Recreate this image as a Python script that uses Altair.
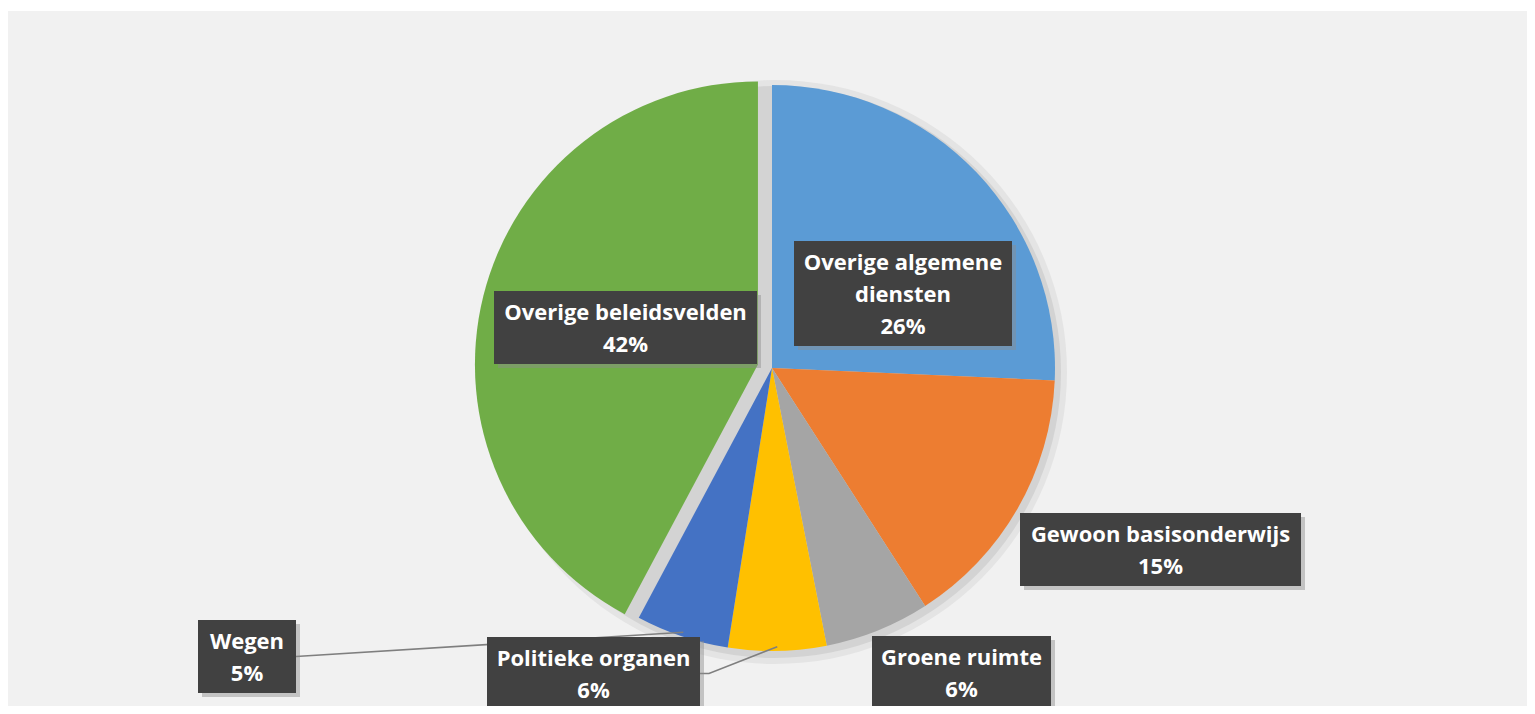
import math
import altair as alt
import pandas as pd

# ---------------- data ----------------
categories = ["Overige algemene diensten", "Gewoon basisonderwijs", "Groene ruimte",
              "Politieke organen", "Wegen", "Overige beleidsvelden"]
shares = [25.7, 15.2, 6.0, 5.6, 5.3, 42.2]
pct_labels = ["26%", "15%", "6%", "6%", "5%", "42%"]
name_lines = [["Overige algemene", "diensten"], ["Gewoon basisonderwijs"], ["Groene ruimte"],
              ["Politieke organen"], ["Wegen"], ["Overige beleidsvelden"]]
colors = ["#5B9BD5", "#ED7D31", "#A5A5A5", "#FFC000", "#4472C4", "#70AD47"]
exploded = ["Overige beleidsvelden"]
with_leader = ["Politieke organen", "Wegen"]

# ---------------- layout (pixels in plot area) ----------------
W, H = 1519, 695
CX, CY, R = 764, 357, 283
EXPLODE = 14.5
LINE_H = 32
# label box: left, top, right
box_layout = {
    "Overige algemene diensten": (786, 230, 1004),
    "Gewoon basisonderwijs": (1012, 502, 1293),
    "Groene ruimte": (864, 625, 1043),
    "Politieke organen": (479, 626, 692),
    "Wegen": (190, 609, 288),
    "Overige beleidsvelden": (486, 280, 749),
}
elbow = {"Politieke organen": 9, "Wegen": 0}
FONT = "Open Sans"
FS = 22
BOX_COLOR = "#414141"

# ---------------- derived tables ----------------
total = sum(shares)
rows = []
acc = 0.0
for c, s, col in zip(categories, shares, colors):
    t0 = acc / total * 2 * math.pi
    acc += s
    t1 = acc / total * 2 * math.pi
    mid = (t0 + t1) / 2
    off = EXPLODE if c in exploded else 0
    rows.append(dict(cat=c, t0=t0, t1=t1, mid=mid, color=col,
                     cx=CX + off * math.sin(mid), cy=CY - off * math.cos(mid)))
slices = pd.DataFrame(rows)

boxes, texts, leaders = [], [], []
for c, pct, lines in zip(categories, pct_labels, name_lines):
    allines = lines + [pct]
    l, t, r = box_layout[c]
    b = t + 32 * (len(allines) - 1) + 41
    boxes.append(dict(cat=c, l=l, t=t, r=r, b=b))
    for i, ln in enumerate(allines):
        texts.append(dict(cat=c, x=(l + r) / 2, y=t + 21.5 + LINE_H * i, txt=ln))
    if c in with_leader:
        mid = slices.loc[slices.cat == c, "mid"].iloc[0]
        ym = (t + b) / 2
        pts = [(r, ym), (r + elbow[c], ym),
               (CX + 0.985 * R * math.sin(mid), CY - 0.985 * R * math.cos(mid))]
        for k, (px, py) in enumerate(pts):
            leaders.append(dict(cat=c, k=k, x=px, y=py))
boxes = pd.DataFrame(boxes)
texts = pd.DataFrame(texts)
leaders = pd.DataFrame(leaders)

shadow_df = pd.DataFrame([dict(cx=CX + 3, cy=CY + 4, t0=0.0, t1=2 * math.pi)])

Xn = lambda f: alt.X(f, type="quantitative", scale=None)
Yn = lambda f: alt.Y(f, type="quantitative", scale=None)

pie_glow = alt.Chart(shadow_df).mark_arc(radius=292, color="#e4e4e4").encode(
    x=Xn("cx"), y=Yn("cy"), theta=alt.Theta("t0:Q", scale=None), theta2="t1")
pie_shadow = alt.Chart(shadow_df).mark_arc(radius=286, color="#d3d3d3").encode(
    x=Xn("cx"), y=Yn("cy"), theta=alt.Theta("t0:Q", scale=None), theta2="t1")

pie = alt.Chart(slices).mark_arc(radius=R).encode(
    x=Xn("cx"), y=Yn("cy"),
    theta=alt.Theta("t0:Q", scale=None), theta2="t1",
    color=alt.Color("color:N", scale=None),
)

lead = alt.Chart(leaders).mark_line(color="#7f7f7f", strokeWidth=1.6).encode(
    x=Xn("x"), y=Yn("y"), detail="cat:N", order="k:Q")

box_shadow = alt.Chart(boxes).transform_calculate(
    l2="datum.l + 4", r2="datum.r + 4", t2="datum.t + 4", b2="datum.b + 4"
).mark_rect(color="#8c8c8c", opacity=0.45).encode(
    x=Xn("l2"), x2="r2", y=Yn("t2"), y2="b2")

box = alt.Chart(boxes).mark_rect(color=BOX_COLOR).encode(
    x=Xn("l"), x2="r", y=Yn("t"), y2="b")

txt = alt.Chart(texts).mark_text(font=FONT, fontSize=FS, fontWeight="bold", color="white",
                                 align="center", baseline="middle").encode(
    x=Xn("x"), y=Yn("y"), text="txt:N")

chart = alt.layer(pie_glow, pie_shadow, pie, lead, box_shadow, box, txt).properties(
    width=W, height=H,
    padding={"top": 3, "left": 0, "right": 0, "bottom": 0},
    autosize="none",
    background="white",
).configure_view(fill="#f1f1f1", stroke=None)

chart.save("out.html", embed_options={"renderer": "svg", "actions": False})
